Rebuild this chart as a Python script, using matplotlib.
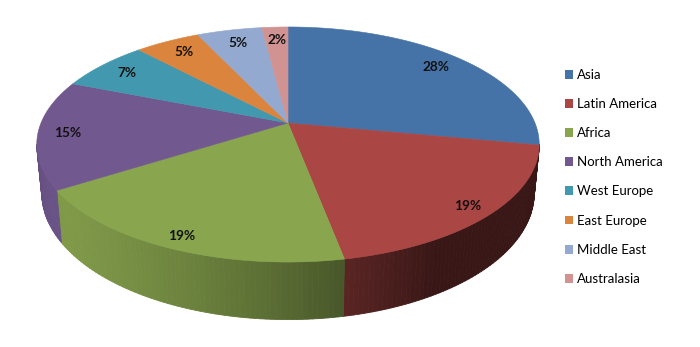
import numpy as np
import matplotlib.pyplot as plt
from matplotlib.patches import Polygon, Patch
from matplotlib.collections import PolyCollection
from matplotlib.colors import to_rgb

regions = ['Asia', 'Latin America', 'Africa', 'North America',
           'West Europe', 'East Europe', 'Middle East', 'Australasia']
shares = [28, 19, 19, 15, 7, 5, 5, 2]
colors = ['#4572A7', '#AA4643', '#89A54E', '#71588F',
          '#4198AF', '#DB843D', '#93A9CF', '#D19392']

# geometry of the tilted pie, in pixels
CX, CY = 288, 123
A, B = 247, 113.6
K = 0.183        # perspective strength
DEPTH = 47       # slab thickness
SHRINK = 0.98    # lower rim is a bit narrower


def project(theta, r=1.0):
    x = r * np.sin(theta)
    z = -r * np.cos(theta)
    s = 1 / (1 - K * z)
    return CX + A * x * s, CY + B * z * s


def project_bottom(theta):
    x, y = project(theta)
    s = 1 / (1 + K * np.cos(theta))
    return CX + (x - CX) * SHRINK, y + DEPTH * s


def shade(theta):
    # light coming from the front-left
    return 0.33 + 0.6 * max(0.0, np.cos(theta - np.radians(240)))


fig = plt.figure(figsize=(7, 3.47), dpi=100)
ax = fig.add_axes([0, 0, 1, 1])
ax.set_xlim(0, 700)
ax.set_ylim(347, 0)
ax.axis('off')

edges = np.radians(np.concatenate([[0], np.cumsum(shares)]) * 360 / sum(shares))
t_right = np.arccos(-K)
t_left = 2 * np.pi - t_right

# side walls
quads, qcols = [], []
for i, col in enumerate(colors):
    t0, t1 = max(edges[i], t_right), min(edges[i + 1], t_left)
    if t1 <= t0:
        continue
    n = max(2, int(np.degrees(t1 - t0)))
    ts = np.linspace(t0, t1, n + 1)
    base = np.array(to_rgb(col))
    for a, b in zip(ts[:-1], ts[1:]):
        quads.append([project(a), project(b), project_bottom(b), project_bottom(a)])
        qcols.append(np.clip(base * shade((a + b) / 2), 0, 1))
ax.add_collection(PolyCollection(quads, facecolors=qcols, edgecolors=qcols,
                                 linewidths=0.6))

# top faces
for i, col in enumerate(colors):
    ts = np.linspace(edges[i], edges[i + 1], 80)
    pts = [(CX, CY)] + [project(t) for t in ts]
    ax.add_patch(Polygon(pts, closed=True, facecolor=col, edgecolor=col,
                         linewidth=0.4))

# percentage labels
for i, v in enumerate(shares):
    mid = (edges[i] + edges[i + 1]) / 2
    r = 0.88 - 0.04 * np.cos(mid)
    x, y = project(mid, r)
    ax.text(x, y, f'{v}%', ha='center', va='center', fontsize=9.8,
            fontweight='bold', color='#111111', family='Lato')

handles = [Patch(facecolor=c, edgecolor='none') for c in colors]
ax.legend(handles, regions, loc='upper left', bbox_to_anchor=(553 / 700, 1 - 57 / 347),
          frameon=False, handlelength=0.65, handleheight=0.65, handletextpad=0.3,
          labelspacing=1.3, prop={'family': 'Lato', 'size': 9.5})

fig.savefig('out.png', dpi=100)
